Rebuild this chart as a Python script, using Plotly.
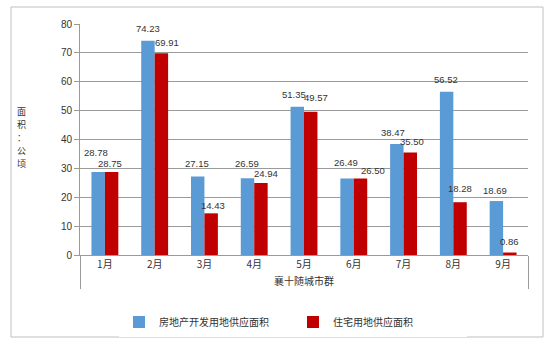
import plotly.graph_objects as go

months = ["1月", "2月", "3月", "4月", "5月", "6月", "7月", "8月", "9月"]
region = "襄十随城市群"
dev_land = [28.78, 74.23, 27.15, 26.59, 51.35, 26.49, 38.47, 56.52, 18.69]
res_land = [28.75, 69.91, 14.43, 24.94, 49.57, 26.50, 35.50, 18.28, 0.86]
series_names = ["房地产开发用地供应面积", "住宅用地供应面积"]
y_ticks = [0, 10, 20, 30, 40, 50, 60, 70, 80]
y_title_chars = ["面", "积", "：", "公", "顷"]

# nudges (px) that keep neighbouring value labels apart: (dx, dy)
dev_shift = [(-2, 8), (0, 1), (-1, 2), (0, 4), (-3, 1), (-1, 5), (-4, 0), (-1, 1), (-1, 0)]
res_shift = [(-2, -3), (6, 0), (2, -3), (5, -2), (5, 3), (12, -3), (2, 0), (0, 3), (0, 0)]

x_multi = [[region] * len(months), months]

cjk = "Noto Sans CJK SC"
num_font = dict(family="Liberation Sans Narrow, Liberation Sans, Arial", size=9.5, color="#333333")
grey = "#9a9a9a"
bar_half = 0.1355  # half of one bar's width, in category units

fig = go.Figure()
fig.add_trace(go.Bar(x=x_multi, y=dev_land, name=series_names[0],
                     marker=dict(color="#5B9BD5", line=dict(width=0))))
fig.add_trace(go.Bar(x=x_multi, y=res_land, name=series_names[1],
                     marker=dict(color="#C00000", line=dict(width=0))))

# value labels above each bar
for i, (dv, rv) in enumerate(zip(dev_land, res_land)):
    for val, off, (dx, dy) in ((dv, -bar_half, dev_shift[i]), (rv, bar_half, res_shift[i])):
        fig.add_annotation(x=i + off, y=val, xref="x", yref="y", text=f"{val:.2f}",
                           showarrow=False, yanchor="middle", xanchor="center",
                           xshift=dx, yshift=11 + dy, font=num_font)

fig.update_layout(
    width=550, height=344,
    margin=dict(l=80, r=22, t=24, b=89, autoexpand=False),
    paper_bgcolor="white", plot_bgcolor="white",
    barmode="group", bargap=0.46, bargroupgap=0,
    font=dict(family=cjk, size=10, color="#333333"),
    showlegend=True,
    legend=dict(orientation="h", xref="container", yref="container",
                x=119 / 550, xanchor="left", y=1 - 322 / 344, yanchor="middle",
                font=dict(family=cjk, size=10, color="#333333"),
                entrywidth=129, entrywidthmode="pixels", traceorder="normal"),
)

fig.update_yaxes(
    range=[0, 80], tickvals=y_ticks, showgrid=True, gridcolor=grey, gridwidth=1,
    showline=True, linecolor=grey, ticks="outside", ticklen=5, tickcolor=grey,
    tickfont=dict(family="Liberation Sans, Arial", size=10, color="#333333"),
    zeroline=False,
)
fig.update_xaxes(
    type="multicategory", showline=True, linecolor=grey,
    showdividers=True, dividercolor=grey, dividerwidth=1,
    ticks="", tickfont=dict(family=cjk, size=10, color="#333333"),
)

# vertical axis title, one character per line (13 px apart, centred near the middle)
title_step = 13 / 231
for k, ch in enumerate(y_title_chars):
    fig.add_annotation(
        text=ch, xref="paper", yref="paper",
        x=-0.1295, y=0.51 + (2 - k) * title_step,
        xanchor="center", yanchor="middle", showarrow=False,
        font=dict(family=cjk, size=9, color="#333333"),
    )

# outer chart border
fig.add_shape(type="rect", xref="paper", yref="paper",
              x0=-0.154, y0=-0.355, x1=1.0335, y1=1.0736,
              line=dict(color="#c0c0c0", width=1))

fig.write_html("out.html")
